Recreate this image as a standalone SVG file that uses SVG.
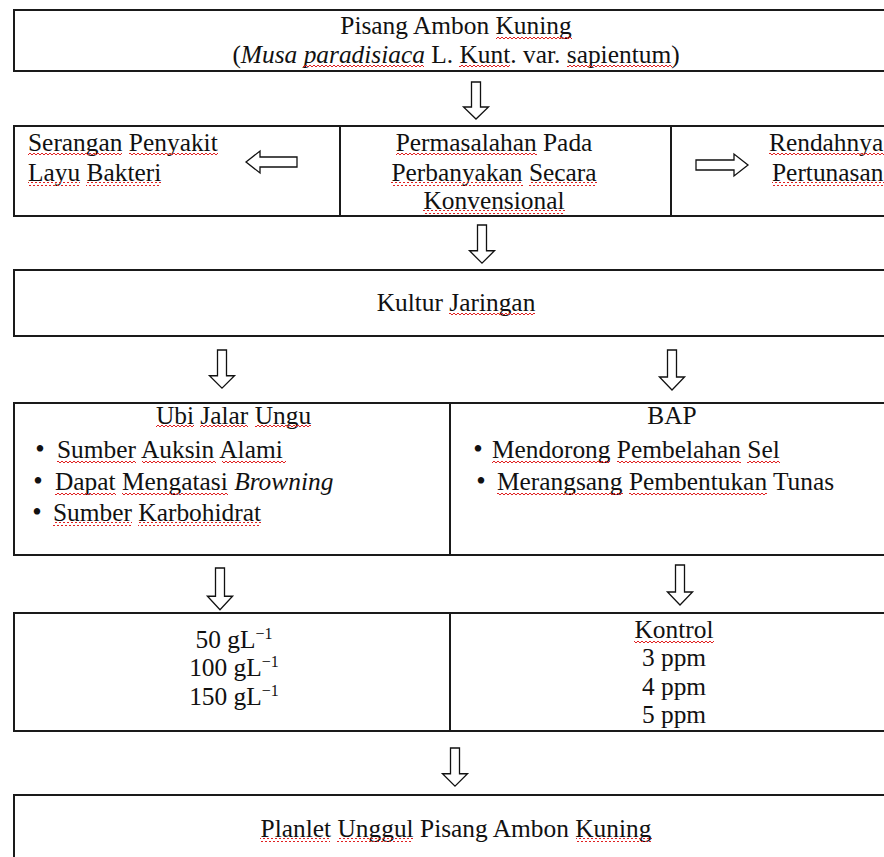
<svg xmlns="http://www.w3.org/2000/svg" width="884" height="857" viewBox="0 0 884 857">
<style>
.box{fill:#fff;stroke:#1a1a1a;stroke-width:2}
.t{font-family:"Liberation Serif","Times New Roman",serif;font-size:25.4px;fill:#111}
.c{text-anchor:middle}
.i{font-style:italic}
.b{font-size:27px}
.sup{font-size:16px}
.sq{fill:url(#wave)}
.arr{fill:#fff;stroke:#111;stroke-width:1.3;stroke-linejoin:miter}
</style>
<defs>
<pattern id="wave" patternUnits="userSpaceOnUse" width="4" height="4">
<path d="M0,3 L2,1 L4,3" fill="none" stroke="#e02020" stroke-width="1"/>
</pattern>
<path id="down" d="M-4.5,0 H4.5 V25 H12.5 L0,37 L-12.5,25 H-4.5 Z"/>
</defs>
<rect width="884" height="857" fill="#fff"/>

<g id="n-pisang">
<rect class="box" x="14" y="10" width="890" height="61"/>
<text class="t c" x="456" y="34"><tspan>Pisang</tspan> <tspan>Ambon</tspan> <tspan>Kuning</tspan></text>
<text class="t c" x="456" y="63">(<tspan class="i"><tspan>Musa</tspan> <tspan>paradisiaca</tspan></tspan> <tspan>L.</tspan> <tspan>Kunt.</tspan> <tspan>var.</tspan> <tspan>sapientum</tspan>)</text>
<rect class="sq" x="496" y="35" width="76" height="4"/>
<rect class="sq" x="303" y="64" width="121" height="4"/>
<rect class="sq" x="459" y="64" width="51" height="4"/>
<rect class="sq" x="567" y="64" width="105" height="4"/>
</g>

<g id="n-serangan">
<rect class="box" x="14" y="126" width="326" height="90"/>
<text class="t" x="28" y="151"><tspan>Serangan</tspan> <tspan>Penyakit</tspan></text>
<text class="t" x="28" y="181"><tspan>Layu</tspan> <tspan>Bakteri</tspan></text>
<rect class="sq" x="28" y="152" width="94" height="4"/>
<rect class="sq" x="129" y="152" width="89" height="4"/>
<rect class="sq" x="28" y="182" width="52" height="4"/>
<rect class="sq" x="86" y="182" width="75" height="4"/>
</g>
<g id="n-permasalahan">
<rect class="box" x="340" y="126" width="331" height="90"/>
<text class="t c" x="494" y="151"><tspan>Permasalahan</tspan> <tspan>Pada</tspan></text>
<text class="t c" x="494" y="181"><tspan>Perbanyakan</tspan> <tspan>Secara</tspan></text>
<text class="t c" x="494" y="209">Konvensional</text>
<rect class="sq" x="396" y="152" width="141" height="4"/>
<rect class="sq" x="391" y="182" width="132" height="4"/>
<rect class="sq" x="529" y="182" width="68" height="4"/>
<rect class="sq" x="423" y="210" width="142" height="4"/>
</g>
<g id="n-rendahnya">
<rect class="box" x="671" y="126" width="233" height="90"/>
<text class="t" x="769" y="151">Rendahnya</text>
<text class="t" x="772" y="181">Pertunasan</text>
<rect class="sq" x="769" y="152" width="115" height="4"/>
<rect class="sq" x="772" y="182" width="112" height="4"/>
</g>

<g id="n-kultur">
<rect class="box" x="14" y="270" width="890" height="66"/>
<text class="t c" x="456" y="311"><tspan>Kultur</tspan> <tspan>Jaringan</tspan></text>
<rect class="sq" x="449" y="312" width="86" height="4"/>
</g>

<g id="n-ubi">
<rect class="box" x="14" y="403" width="436" height="152"/>
<text class="t c" x="233.5" y="424"><tspan>Ubi</tspan> <tspan>Jalar</tspan> <tspan>Ungu</tspan></text>
<text class="t b" x="35.3" y="458">•</text>
<text class="t" x="57" y="458"><tspan>Sumber</tspan> <tspan>Auksin</tspan> <tspan>Alami</tspan></text>
<text class="t b" x="33.3" y="490">•</text>
<text class="t" x="55" y="490"><tspan>Dapat</tspan> <tspan>Mengatasi</tspan> <tspan class="i">Browning</tspan></text>
<text class="t b" x="32.3" y="521">•</text>
<text class="t" x="53" y="521"><tspan>Sumber</tspan> <tspan>Karbohidrat</tspan></text>
<rect class="sq" x="156" y="425" width="38" height="4"/>
<rect class="sq" x="200" y="425" width="48" height="4"/>
<rect class="sq" x="255" y="425" width="56" height="4"/>
<rect class="sq" x="57" y="459" width="79" height="4"/>
<rect class="sq" x="142" y="459" width="74" height="4"/>
<rect class="sq" x="222" y="459" width="64" height="4"/>
<rect class="sq" x="55" y="491" width="61" height="4"/>
<rect class="sq" x="122" y="491" width="106" height="4"/>
<rect class="sq" x="53" y="522" width="79" height="4"/>
<rect class="sq" x="138" y="522" width="123" height="4"/>
</g>
<g id="n-bap">
<rect class="box" x="450" y="403" width="454" height="152"/>
<text class="t c" x="672" y="424">BAP</text>
<text class="t b" x="473.3" y="458">•</text>
<text class="t" x="492" y="458"><tspan>Mendorong</tspan> <tspan>Pembelahan</tspan> <tspan>Sel</tspan></text>
<text class="t b" x="476.3" y="490">•</text>
<text class="t" x="497" y="490"><tspan>Merangsang</tspan> <tspan>Pembentukan</tspan> <tspan>Tunas</tspan></text>
<rect class="sq" x="492" y="459" width="118" height="4"/>
<rect class="sq" x="617" y="459" width="124" height="4"/>
<rect class="sq" x="747" y="459" width="33" height="4"/>
<rect class="sq" x="497" y="491" width="126" height="4"/>
<rect class="sq" x="629" y="491" width="138" height="4"/>
</g>

<g id="n-dosis-ubi">
<rect class="box" x="14" y="613" width="436" height="118"/>
<text class="t c" x="234" y="648">50 gL<tspan class="sup" dy="-9">−1</tspan></text>
<text class="t c" x="234" y="676">100 gL<tspan class="sup" dy="-9">−1</tspan></text>
<text class="t c" x="234" y="705">150 gL<tspan class="sup" dy="-9">−1</tspan></text>
</g>
<g id="n-dosis-bap">
<rect class="box" x="450" y="613" width="454" height="118"/>
<text class="t c" x="674" y="638">Kontrol</text>
<text class="t c" x="674" y="666">3 ppm</text>
<text class="t c" x="674" y="695">4 ppm</text>
<text class="t c" x="674" y="723">5 ppm</text>
<rect class="sq" x="634" y="639" width="80" height="4"/>
</g>

<g id="n-planlet">
<rect class="box" x="14" y="795" width="890" height="80"/>
<text class="t c" x="456" y="837"><tspan>Planlet</tspan> <tspan>Unggul</tspan> <tspan>Pisang</tspan> <tspan>Ambon</tspan> <tspan>Kuning</tspan></text>
<rect class="sq" x="260" y="838" width="70" height="4"/>
<rect class="sq" x="337" y="838" width="76" height="4"/>
<rect class="sq" x="576" y="838" width="76" height="4"/>
</g>

<g id="connectors">
<use href="#down" class="arr" transform="translate(476,82)"/>
<path class="arr" d="M246,162 L260,151 V157 H297 V167 H260 V173 Z"/>
<path class="arr" d="M696,160 H734 V154 L748,165 L734,176 V170 H696 Z"/>
<use href="#down" class="arr" transform="translate(482,225) scale(1,1.03)"/>
<use href="#down" class="arr" transform="translate(222,350) scale(1,1.03)"/>
<use href="#down" class="arr" transform="translate(672,350) scale(1,1.08)"/>
<use href="#down" class="arr" transform="translate(220,568) scale(1,1.13)"/>
<use href="#down" class="arr" transform="translate(680,565) scale(1,1.08)"/>
<use href="#down" class="arr" transform="translate(455,748) scale(1,1.03)"/>
</g>
</svg>
